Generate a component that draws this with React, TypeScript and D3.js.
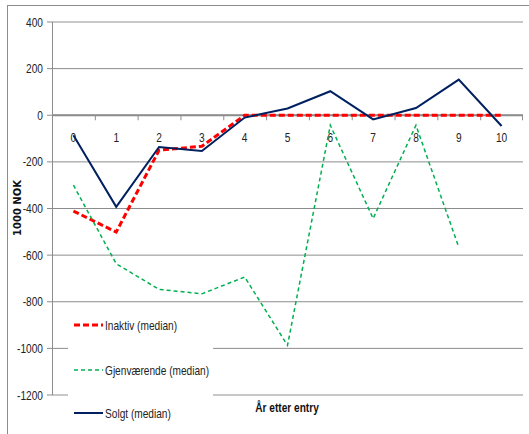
import React from "react";
import * as d3 from "d3";

const years = ["0", "1", "2", "3", "4", "5", "6", "7", "8", "9", "10"];
const inaktiv: (number | null)[] = [-411, -501, -150, -133, 0, 0, 0, 0, 0, 0, 0];
const gjenvaerende: (number | null)[] = [-300, -637, -747, -766, -694, -987, -43, -443, -43, -566, null];
const solgt: (number | null)[] = [-86, -393, -136, -153, -10, 29, 103, -18, 31, 153, -46];
const yTicks = [400, 200, 0, -200, -400, -600, -800, -1000, -1200];

const series = [
  { name: "Inaktiv (median)", values: inaktiv, color: "#ff0000", width: 3, dash: "6,3" },
  { name: "Gjenværende (median)", values: gjenvaerende, color: "#00b050", width: 1.5, dash: "4,3" },
  { name: "Solgt (median)", values: solgt, color: "#002060", width: 2, dash: null as string | null },
];

const W = 529;
const H = 434;
const left = 52;
const right = 523;
const top = 22;
const bottom = 395;
const font = "'Liberation Sans', Arial, sans-serif";
const squeeze = 0.78;

// Narrow label: Liberation Sans squeezed horizontally
function Label(props: {
  x: number;
  y: number;
  anchor?: "start" | "middle" | "end";
  bold?: boolean;
  children: React.ReactNode;
}) {
  return (
    <g transform={`translate(${props.x},${props.y}) scale(${squeeze},1)`}>
      <text
        textAnchor={props.anchor || "start"}
        fontFamily={font}
        fontWeight={props.bold ? "bold" : "normal"}
        fontSize={13}
        fill={props.bold ? "#111" : "#222"}
      >
        {props.children}
      </text>
    </g>
  );
}

export default function App() {
  const x = d3.scaleBand<string>().domain(years).range([left, right]);
  const y = d3.scaleLinear().domain([-1200, 400]).range([bottom, top]);
  const cx = (i: number) => (x(years[i]) as number) + x.bandwidth() / 2;

  const line = d3
    .line<number | null>()
    .defined((d) => d !== null)
    .x((_, i) => cx(i))
    .y((d) => y(d as number));

  const legendItems = [325, 370, 413];

  return (
    <svg
      width={W}
      height={H}
      style={{ position: "absolute", left: 0, top: 0, background: "#fff" }}
    >
      {/* outer frame */}
      <line x1={7} x2={W} y1={5.5} y2={5.5} stroke="#8c8c8c" strokeWidth={1} />
      <line x1={7.5} x2={7.5} y1={5} y2={H} stroke="#8c8c8c" strokeWidth={1} />

      {/* gridlines */}
      {yTicks.map((t) => (
        <line
          key={t}
          x1={left}
          x2={right}
          y1={y(t)}
          y2={y(t)}
          stroke={t === -1200 || t === 400 ? "#c8c8c8" : "#8c8c8c"}
          strokeWidth={t === -1200 || t === 400 ? 2 : 1}
        />
      ))}

      {/* y axis */}
      <line x1={left + 0.5} x2={left + 0.5} y1={top} y2={bottom} stroke="#8c8c8c" />
      {yTicks.map((t) => (
        <g key={"yt" + t}>
          <line x1={left - 5} x2={left} y1={y(t)} y2={y(t)} stroke="#8c8c8c" />
          <Label x={left - 9} y={y(t) + 4.5} anchor="end">
            {t}
          </Label>
        </g>
      ))}

      {/* category axis along zero */}
      <line x1={left} x2={right} y1={y(0)} y2={y(0)} stroke="#8c8c8c" strokeWidth={2} />
      {years.map((yr) => (
        <line
          key={"xt" + yr}
          x1={(x(yr) as number) + 0.5}
          x2={(x(yr) as number) + 0.5}
          y1={y(0)}
          y2={y(0) + 5}
          stroke="#8c8c8c"
        />
      ))}
      <line x1={right - 0.5} x2={right - 0.5} y1={y(0)} y2={y(0) + 5} stroke="#8c8c8c" />
      {years.map((yr, i) => (
        <Label key={"xl" + yr} x={cx(i)} y={y(0) + 27} anchor="middle">
          {yr}
        </Label>
      ))}

      {/* legend background */}
      <rect x={68} y={303} width={145} height={131} fill="#fff" />

      {/* series */}
      {series.map((s) => (
        <path
          key={s.name}
          d={line(s.values) || ""}
          fill="none"
          stroke={s.color}
          strokeWidth={s.width}
          strokeDasharray={s.dash || undefined}
          strokeLinejoin="miter"
        />
      ))}

      {/* legend */}
      {series.map((s, i) => (
        <g key={"lg" + s.name}>
          <line
            x1={74}
            x2={103}
            y1={legendItems[i]}
            y2={legendItems[i]}
            stroke={s.color}
            strokeWidth={s.width}
            strokeDasharray={s.dash || undefined}
          />
          <Label x={105} y={legendItems[i] + 4.5}>
            {s.name}
          </Label>
        </g>
      ))}

      {/* axis titles */}
      <Label x={287} y={412} anchor="middle" bold>
        År etter entry
      </Label>
      <text
        transform={`translate(21,208) rotate(-90)`}
        textAnchor="middle"
        fontFamily="'DejaVu Sans', Verdana, sans-serif"
        fontWeight="bold"
        fontSize={10}
        fill="#111"
      >
        1000 NOK
      </text>
    </svg>
  );
}
